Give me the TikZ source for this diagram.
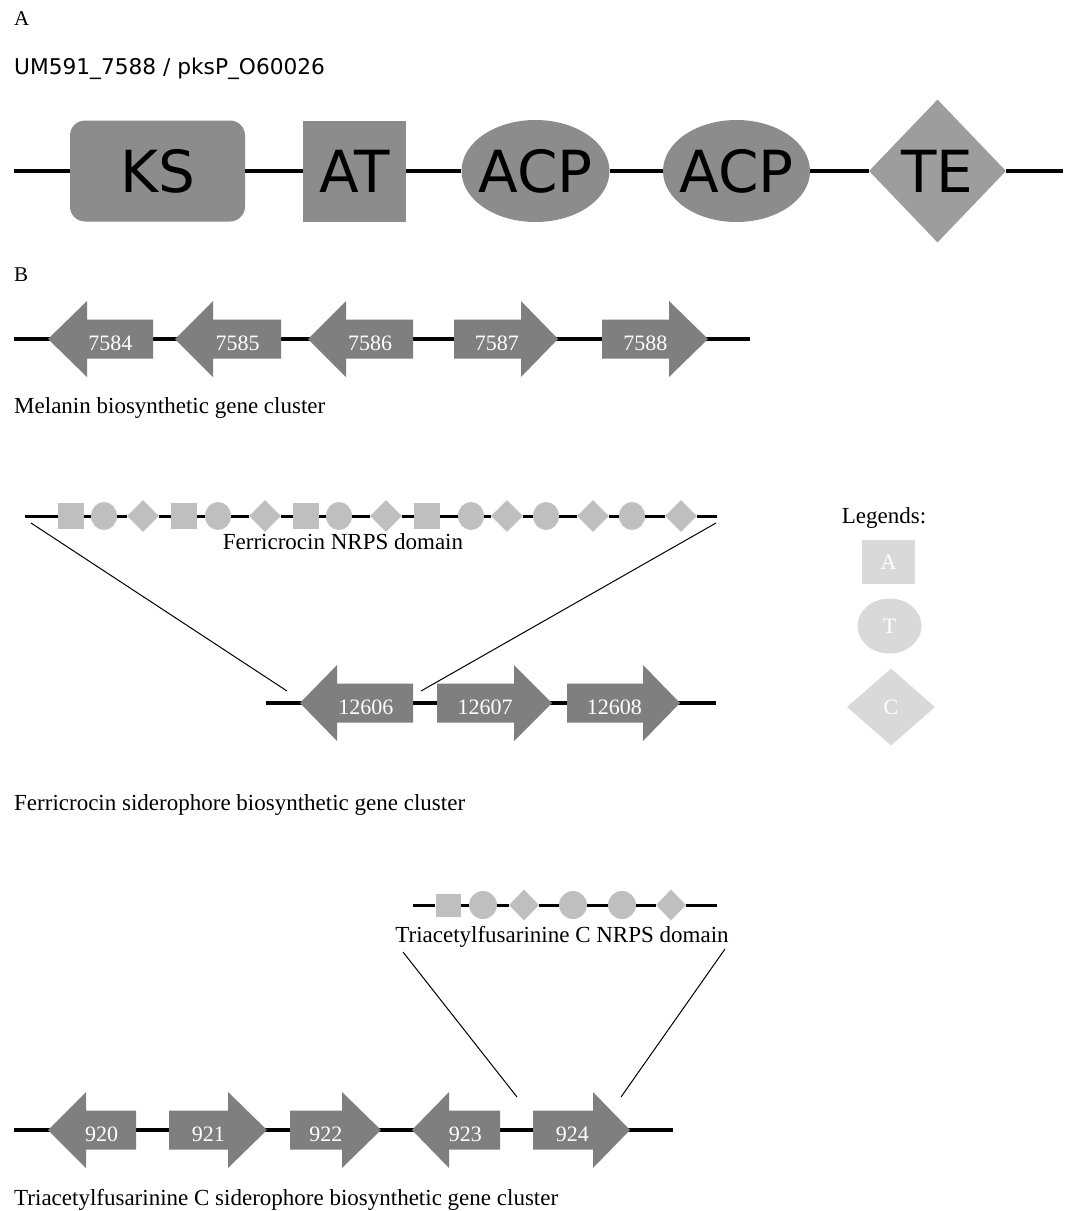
\documentclass[tikz,border=0pt]{standalone}
\usepackage{fontspec}
\setmainfont{Liberation Serif}
\newfontfamily\dvsans{DejaVu Sans}
\usetikzlibrary{shapes.geometric}
\definecolor{pksgray}{HTML}{8C8C8C}
\definecolor{tegray}{HTML}{9D9D9D}
\definecolor{genefillc}{HTML}{7F7F7F}
\definecolor{nrps}{HTML}{BFBFBF}
\definecolor{legendc}{HTML}{D9D9D9}
\newcommand{\GeneL}[6]{%
  \fill[genefill] (#2,#5) -- (#3,#5-38) -- (#3,#5-19.5) -- (#4,#5-19.5) -- (#4,#5+19.5) -- (#3,#5+19.5) -- (#3,#5+38) -- cycle;
  \node[genelabel] (#1) at ({(#2+#3+2*#4)/4},#5+11) {#6};}
\newcommand{\GeneR}[6]{%
  \fill[genefill] (#2,#5-19.5) -- (#3,#5-19.5) -- (#3,#5-38) -- (#4,#5) -- (#3,#5+38) -- (#3,#5+19.5) -- (#2,#5+19.5) -- cycle;
  \node[genelabel] (#1) at ({(2*#2+#3+#4)/4},#5+11) {#6};}
\begin{document}
\begin{tikzpicture}[x=1pt,y=-1pt,
  serif/.style={font=\fontsize{23}{27}\selectfont, inner sep=0, anchor=base west},
  panel/.style={font=\fontsize{21}{25}\selectfont, inner sep=0, anchor=base west},
  pkstext/.style={font=\dvsans\fontsize{58}{63}\selectfont, inner sep=0},
  pksbox/.style={rectangle, fill=pksgray, inner sep=0},
  pksell/.style={ellipse, fill=pksgray, inner sep=0, minimum height=102},
  pksline/.style={line width=4},
  geneline/.style={line width=3.5},
  domline/.style={line width=3},
  thinline/.style={line width=1},
  genefill/.style={fill=genefillc},
  genelabel/.style={font=\fontsize{22}{26}\selectfont, text=white, inner sep=0, anchor=base},
  nsq/.style={rectangle, fill=nrps, minimum width=26, minimum height=26, inner sep=0},
  ncirc/.style={ellipse, fill=nrps, minimum width=26, minimum height=28, inner sep=0},
  ndia/.style={diamond, fill=nrps, minimum width=32, minimum height=32, inner sep=0},
  tsq/.style={rectangle, fill=nrps, minimum width=25, minimum height=23, inner sep=0},
  tcirc/.style={ellipse, fill=nrps, minimum width=28, minimum height=28, inner sep=0},
  tdia/.style={diamond, fill=nrps, minimum width=30, minimum height=31, inner sep=0},
  legtext/.style={font=\fontsize{22}{26}\selectfont, text=white, inner sep=0}
]
\useasboundingbox[fill=white] (0,0) rectangle (1072,1211);

% ---------------- Panel A ----------------
\node[panel] (labA) at (14,25) {A};
\node[font=\dvsans\fontsize{21.7}{26}\selectfont, inner sep=0, anchor=base west] (title) at (14,74) {UM591\_7588 / pksP\_O60026};

\coordinate (aL) at (14,171);
\coordinate (aR) at (1063,171);
\node[pksbox, rounded corners=15, minimum width=175, minimum height=101] (ks) at (157.5,171) {};
\node[pksbox, minimum width=103, minimum height=101] (at) at (354.5,171) {};
\node[pksell, minimum width=148] (acp1) at (535.5,171) {};
\node[pksell, minimum width=147] (acp2) at (736.5,171) {};
\node[diamond, fill=tegray, inner sep=0, minimum width=137, minimum height=143] (te) at (937.5,171) {};
\draw[pksline] (aL) -- (ks) -- (at) -- (acp1) -- (acp2) -- (te) -- (aR);
\node[pkstext] (tks) at (ks) {KS};
\node[pkstext] (tat) at (at) {AT};
\node[pkstext] (tacp1) at (acp1) {ACP};
\node[pkstext] (tacp2) at (acp2) {ACP};
\node[pkstext] (tte) at (te) {TE};

% ---------------- Panel B ----------------
\node[panel] (labB) at (14,281) {B};

% Melanin cluster
\coordinate (mL) at (14,339);
\coordinate (mR) at (750,339);
\draw[geneline] (mL) -- (mR);
\GeneL{g7584}{48}{87}{153}{339}{7584}
\GeneL{g7585}{175}{213}{281}{339}{7585}
\GeneL{g7586}{308}{346}{413}{339}{7586}
\GeneR{g7587}{454}{521}{558}{339}{7587}
\GeneR{g7588}{602}{669}{708}{339}{7588}
\node[serif] (melanin) at (14,413) {Melanin biosynthetic gene cluster};

% Ferricrocin NRPS domain
\coordinate (fL) at (25,516);
\coordinate (fR) at (717,516);
\node[nsq]   (f1)  at (71,516) {};
\node[ncirc] (f2)  at (104,516) {};
\node[ndia]  (f3)  at (143,516) {};
\node[nsq]   (f4)  at (184,516) {};
\node[ncirc] (f5)  at (218,516) {};
\node[ndia]  (f6)  at (265,516) {};
\node[nsq]   (f7)  at (306,516) {};
\node[ncirc] (f8)  at (339,516) {};
\node[ndia]  (f9)  at (386,516) {};
\node[nsq]   (f10) at (427,516) {};
\node[ncirc] (f11) at (471,516) {};
\node[ndia]  (f12) at (507,516) {};
\node[ncirc] (f13) at (546,516) {};
\node[ndia]  (f14) at (593,516) {};
\node[ncirc] (f15) at (632,516) {};
\node[ndia]  (f16) at (681,516) {};
\draw[domline] (fL) -- (f1) -- (f2) -- (f3) -- (f4) -- (f5) -- (f6) -- (f7) -- (f8) -- (f9) -- (f10) -- (f11) -- (f12) -- (f13) -- (f14) -- (f15) -- (f16) -- (fR);
\node[font=\fontsize{23}{27}\selectfont, inner sep=0, anchor=base] (fdom) at (343,549) {Ferricrocin NRPS domain};

% Ferricrocin cluster
\coordinate (cL) at (266,703);
\coordinate (cR) at (716,703);
\draw[geneline] (cL) -- (cR);
\GeneL{g12606}{300}{337}{413}{703}{12606}
\GeneR{g12607}{437}{514}{552}{703}{12607}
\GeneR{g12608}{567}{643}{680}{703}{12608}
\coordinate (fdl1) at (31,523);
\coordinate (fdl2) at (287,691);
\coordinate (fdr1) at (716,523);
\coordinate (fdr2) at (421,691);
\draw[thinline] (fdl1) -- (fdl2);
\draw[thinline] (fdr1) -- (fdr2);
\node[serif] (ferri) at (14,810) {Ferricrocin siderophore biosynthetic gene cluster};

% Legends
\node[font=\fontsize{23}{27}\selectfont, inner sep=0, anchor=base] (legend) at (884,523) {Legends:};
\node[rectangle, fill=legendc, minimum width=53, minimum height=44, inner sep=0] (legA) at (888.5,562) {};
\node[legtext] (legAt) at (legA) {A};
\node[ellipse, fill=legendc, minimum width=64, minimum height=55, inner sep=0] (legT) at (889.5,626) {};
\node[legtext] (legTt) at (legT) {T};
\node[diamond, fill=legendc, minimum width=88, minimum height=77, inner sep=0] (legC) at (891,707) {};
\node[legtext] (legCt) at (legC) {C};

% TAFC NRPS domain
\coordinate (tL) at (413,905);
\coordinate (tR) at (717,905);
\node[tsq]   (t1) at (448,905) {};
\node[tcirc] (t2) at (483,905) {};
\node[tdia]  (t3) at (524,905) {};
\node[tcirc] (t4) at (573,905) {};
\node[tcirc] (t5) at (622,905) {};
\node[tdia]  (t6) at (671,905) {};
\draw[domline] (tL) -- (t1) -- (t2) -- (t3) -- (t4) -- (t5) -- (t6) -- (tR);
\node[font=\fontsize{23}{27}\selectfont, inner sep=0, anchor=base] (tdom) at (562,942) {Triacetylfusarinine C NRPS domain};

% TAFC cluster
\coordinate (sL) at (14,1130);
\coordinate (sR) at (673,1130);
\draw[geneline] (sL) -- (sR);
\GeneL{g920}{48}{86}{136}{1130}{920}
\GeneR{g921}{169}{228}{267}{1130}{921}
\GeneR{g922}{290}{342}{381}{1130}{922}
\GeneL{g923}{412}{449}{500}{1130}{923}
\GeneR{g924}{533}{593}{630}{1130}{924}
\coordinate (tdl1) at (403,952);
\coordinate (tdl2) at (517,1097);
\coordinate (tdr1) at (725,949);
\coordinate (tdr2) at (621,1097);
\draw[thinline] (tdl1) -- (tdl2);
\draw[thinline] (tdr1) -- (tdr2);
\node[serif] (tafc) at (14,1205) {Triacetylfusarinine C siderophore biosynthetic gene cluster};
\end{tikzpicture}
\end{document}
